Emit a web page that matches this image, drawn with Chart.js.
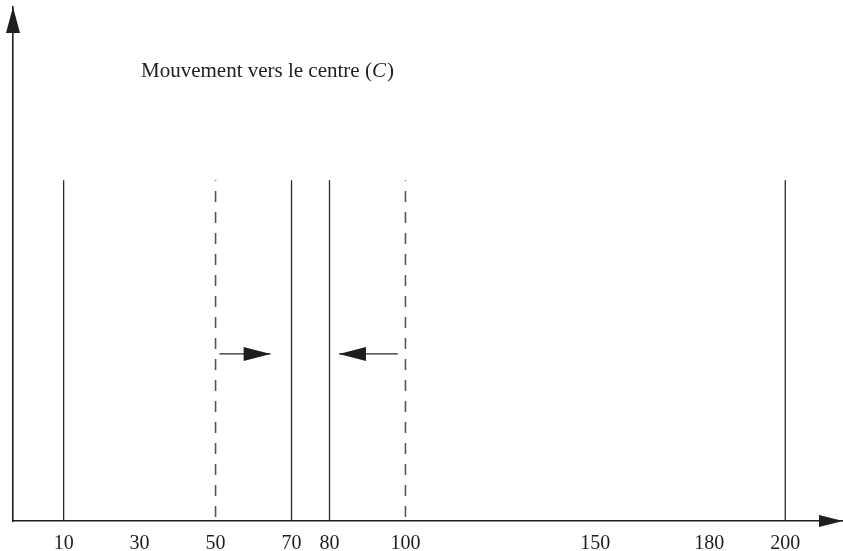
<!DOCTYPE html>
<html>
<head>
<meta charset="utf-8">
<script src="https://cdn.jsdelivr.net/npm/chart.js@4.4.1/dist/chart.umd.min.js"></script>
<style>
    html, body { margin: 0; padding: 0; background: #fff; }
    #wrap { width: 843px; height: 551px; }
</style>
</head>
<body>
<div id="wrap"><canvas id="chart"></canvas></div>
<script>
/* ============================================================================
   DATA
   ============================================================================ */
const tickValues = [10, 30, 50, 70, 80, 100, 150, 180, 200];
const solidLines = [10, 70, 80, 200];
const dashedLines = [50, 100];
const lineHeight = 66.3;
// arrows: [from, to] along x, at arrowLevel
const arrowFrom = [51, 98];
const arrowTo = [64.5, 82.5];
const arrowLevel = 32.5;
const titleText = "Mouvement vers le centre (";
const titleItalic = "C";
const titleEnd = ")";

/* ============================================================================
   THEME
   ============================================================================ */
const ink = "#1e1e1e";
const serif = "'Liberation Serif', 'DejaVu Serif', serif";

function verticalLine(x, dashed) {
    return {
        data: [{ x, y: 0 }, { x, y: lineHeight }],
        borderColor: dashed ? "#555" : "#2a2a2a",
        borderWidth: dashed ? 1.6 : 1.3,
        borderDash: dashed ? [11, 10] : [],
        borderDashOffset: dashed ? 17 : 0,
        pointRadius: 0,
        tension: 0
    };
}

function arrowLine(i) {
    return {
        data: [{ x: arrowFrom[i], y: arrowLevel }, { x: arrowTo[i], y: arrowLevel }],
        borderColor: "#2a2a2a",
        borderWidth: 1.3,
        pointRadius: 0,
        arrowHead: true
    };
}

const datasets = [
    ...solidLines.map(x => verticalLine(x, false)),
    ...dashedLines.map(x => verticalLine(x, true)),
    ...arrowFrom.map((_, i) => arrowLine(i))
];

/* ============================================================================
   PLUGIN — arrowheads on axes + arrows, title text
   ============================================================================ */
function triangle(ctx, tipX, tipY, dx, dy, len, half) {
    // dx, dy: unit direction of the arrow
    const bx = tipX - dx * len, by = tipY - dy * len;
    ctx.beginPath();
    ctx.moveTo(tipX, tipY);
    ctx.lineTo(bx - dy * half, by + dx * half);
    ctx.lineTo(bx + dy * half, by - dx * half);
    ctx.closePath();
    ctx.fill();
}

const sketchPlugin = {
    id: "sketchPlugin",
    afterDraw(chart) {
        const { ctx, chartArea, scales } = chart;
        ctx.save();
        ctx.fillStyle = ink;

        // axis arrowheads
        triangle(ctx, chartArea.left, chartArea.top, 0, -1, 26, 7);
        triangle(ctx, chartArea.right, chartArea.bottom, 1, 0, 24, 6);

        // arrowheads on the movement arrows
        chart.data.datasets.forEach(ds => {
            if (!ds.arrowHead) return;
            const a = ds.data[0], b = ds.data[1];
            const x = scales.x.getPixelForValue(b.x);
            const y = scales.y.getPixelForValue(b.y);
            const dir = b.x > a.x ? 1 : -1;
            triangle(ctx, x, y, dir, 0, 27, 7);
        });

        // title with italic C
        ctx.textBaseline = "alphabetic";
        ctx.font = "21px " + serif;
        let tx = 141;
        const ty = 77;
        ctx.fillText(titleText, tx, ty);
        tx += ctx.measureText(titleText).width;
        ctx.font = "italic 21px " + serif;
        ctx.fillText(titleItalic, tx, ty);
        tx += ctx.measureText(titleItalic).width + 1;
        ctx.font = "21px " + serif;
        ctx.fillText(titleEnd, tx, ty);

        ctx.restore();
    }
};

/* ============================================================================
   CHART
   ============================================================================ */
new Chart(document.getElementById("chart"), {
    type: "line",
    data: { datasets },
    options: {
        responsive: true,
        maintainAspectRatio: false,
        animation: false,
        layout: { padding: { left: 13, right: 0, top: 7, bottom: 0 } },
        plugins: {
            legend: { display: false },
            tooltip: { enabled: false }
        },
        scales: {
            x: {
                type: "linear",
                min: -3.33,
                max: 215.2,
                afterBuildTicks(scale) {
                    scale.ticks = tickValues.map(v => ({ value: v }));
                },
                afterFit(scale) {
                    scale.height = 30;
                },
                grid: { display: false },
                border: { display: true, color: ink, width: 1.6 },
                ticks: {
                    color: ink,
                    padding: 5,
                    autoSkip: false,
                    maxRotation: 0,
                    font: { family: serif, size: 20, lineHeight: 1 }
                }
            },
            y: {
                type: "linear",
                min: 0,
                max: 100,
                afterFit(scale) {
                    scale.width = 0;
                },
                grid: { display: false },
                border: { display: true, color: ink, width: 1.6 },
                ticks: { display: false }
            }
        }
    },
    plugins: [sketchPlugin]
});
</script>
</body>
</html>
